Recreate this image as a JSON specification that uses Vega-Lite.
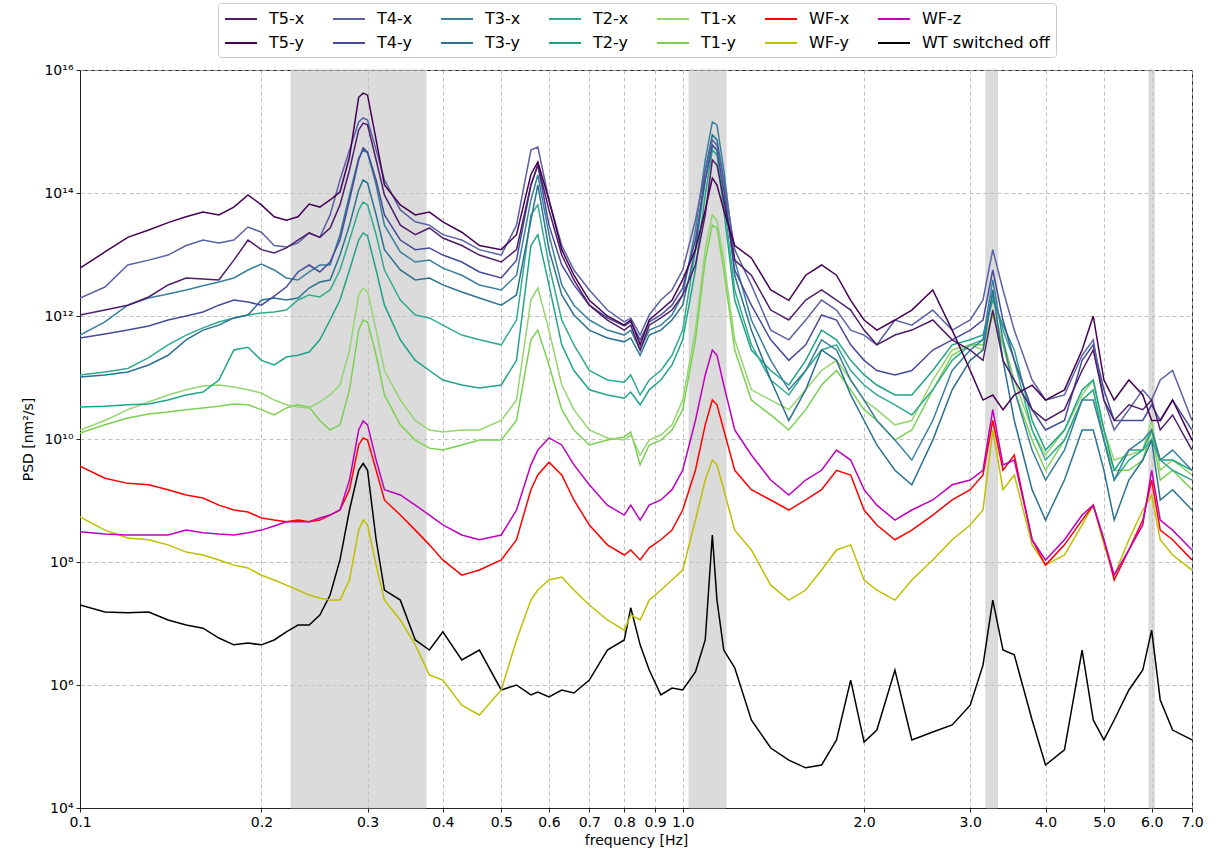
{
"$schema": "https://vega.github.io/schema/vega-lite/v6.json",
"width": 1112, "height": 738,
"autosize": {"type": "none"},
"padding": {"left": 80, "top": 70, "right": 30, "bottom": 44},
"config": {
 "font": "DejaVu Sans",
 "view": {"stroke": "#222222", "strokeWidth": 1},
 "axis": {"labelFont": "DejaVu Sans", "labelFontSize": 14, "labelColor": "#000000", "titleFont": "DejaVu Sans", "titleFontSize": 14, "titleFontWeight": "normal", "titleColor": "#000000", "domainColor": "#222222", "tickColor": "#222222", "tickSize": 4, "gridColor": "#b0b0b0", "gridDash": [4, 3], "gridWidth": 0.8, "labelOverlap": false, "labelFlush": false}
},
"layer": [
 {
  "data": {"values": [{"lo": 0.224, "hi": 0.375}, {"lo": 1.025, "hi": 1.18}, {"lo": 3.185, "hi": 3.33}, {"lo": 5.94, "hi": 6.06}]},
  "mark": {"type": "rect", "fill": "#c4c4c4", "opacity": 0.6, "stroke": "#bdbdbd", "strokeWidth": 1},
  "encoding": {
   "x": {"field": "lo", "type": "quantitative", "scale": {"type": "log", "domain": [0.1, 7], "nice": false}, "title": "frequency [Hz]"},
   "x2": {"field": "hi"}
  }
 },
 {
  "data": {"values": [
{"f":0.10,"T5-x":1.04e12,"T5-y":6.0e12,"T4-x":1.96e12,"T4-y":4.4e11,"T3-x":4.9e11,"T3-y":1.02e11,"T2-x":1.1e11,"T2-y":3.3e10,"T1-x":1.4e10,"T1-y":1.25e10,"WF-x":3.6e9,"WF-y":5.4e8,"WF-z":3.1e8,"WT switched off":2.0e7},
{"f":0.11,"T5-x":1.25e12,"T5-y":1.1e13,"T4-x":2.96e12,"T4-y":5.1e11,"T3-x":8.0e11,"T3-y":1.1e11,"T2-x":1.23e11,"T2-y":3.4e10,"T1-x":2.0e10,"T1-y":1.7e10,"WF-x":2.3e9,"WF-y":3.3e8,"WF-z":2.85e8,"WT switched off":1.54e7},
{"f":0.12,"T5-x":1.5e12,"T5-y":1.9e13,"T4-x":6.75e12,"T4-y":5.9e11,"T3-x":1.5e12,"T3-y":1.23e11,"T2-x":1.4e11,"T2-y":3.6e10,"T1-x":3.0e10,"T1-y":2.2e10,"WF-x":1.9e9,"WF-y":2.46e8,"WF-z":2.75e8,"WT switched off":1.5e7},
{"f":0.13,"T5-x":2.04e12,"T5-y":2.5e13,"T4-x":8.1e12,"T4-y":6.9e11,"T3-x":1.96e12,"T3-y":1.6e11,"T2-x":2.1e11,"T2-y":3.7e10,"T1-x":4.0e10,"T1-y":2.55e10,"WF-x":1.8e9,"WF-y":2.3e8,"WF-z":2.75e8,"WT switched off":1.54e7},
{"f":0.14,"T5-x":3.2e12,"T5-y":3.3e13,"T4-x":9.8e12,"T4-y":8.6e11,"T3-x":2.28e12,"T3-y":2.3e11,"T2-x":3.4e11,"T2-y":4.3e10,"T1-x":5.2e10,"T1-y":2.75e10,"WF-x":1.5e9,"WF-y":1.9e8,"WF-z":2.75e8,"WT switched off":1.14e7},
{"f":0.15,"T5-x":4.15e12,"T5-y":4.1e13,"T4-x":1.4e13,"T4-y":1.0e12,"T3-x":2.65e12,"T3-y":4.1e11,"T2-x":4.9e11,"T2-y":5.2e10,"T1-x":6.3e10,"T1-y":3.0e10,"WF-x":1.23e9,"WF-y":1.45e8,"WF-z":3.3e8,"WT switched off":9.45e6},
{"f":0.16,"T5-x":4.0e12,"T5-y":4.9e13,"T4-x":1.72e13,"T4-y":1.16e12,"T3-x":3.1e12,"T3-y":5.9e11,"T2-x":6.4e11,"T2-y":5.8e10,"T1-x":7.3e10,"T1-y":3.2e10,"WF-x":1.1e9,"WF-y":1.3e8,"WF-z":3.0e8,"WT switched off":8.4e6},
{"f":0.17,"T5-x":3.85e12,"T5-y":4.4e13,"T4-x":1.54e13,"T4-y":1.5e12,"T3-x":3.57e12,"T3-y":7.1e11,"T2-x":8.0e11,"T2-y":9.1e10,"T1-x":7.55e10,"T1-y":3.4e10,"WF-x":8.4e8,"WF-y":1.08e8,"WF-z":2.85e8,"WT switched off":5.8e6},
{"f":0.18,"T5-x":8.1e12,"T5-y":5.9e13,"T4-x":1.72e13,"T4-y":1.82e12,"T3-x":4.15e12,"T3-y":9.3e11,"T2-x":9.3e11,"T2-y":2.8e11,"T1-x":7.0e10,"T1-y":3.7e10,"WF-x":7.0e8,"WF-y":8.9e7,"WF-z":2.75e8,"WT switched off":4.5e6},
{"f":0.19,"T5-x":1.72e13,"T5-y":9.3e13,"T4-x":2.8e13,"T4-y":1.69e12,"T3-x":5.6e12,"T3-y":1.04e12,"T2-x":1.04e12,"T2-y":3.1e11,"T1-x":6.3e10,"T1-y":3.6e10,"WF-x":6.5e8,"WF-y":8.0e7,"WF-z":3.0e8,"WT switched off":4.8e6},
{"f":0.20,"T5-x":1.2e13,"T5-y":6.4e13,"T4-x":2.3e13,"T4-y":1.5e12,"T3-x":7.0e12,"T3-y":1.82e12,"T2-x":1.12e12,"T2-y":1.9e11,"T1-x":5.6e10,"T1-y":3.0e10,"WF-x":5.2e8,"WF-y":6.1e7,"WF-z":3.3e8,"WT switched off":4.5e6},
{"f":0.21,"T5-x":1.06e13,"T5-y":4.1e13,"T4-x":1.4e13,"T4-y":2.1e12,"T3-x":5.6e12,"T3-y":1.96e12,"T2-x":1.16e12,"T2-y":1.6e11,"T1-x":4.3e10,"T1-y":2.46e10,"WF-x":4.8e8,"WF-y":5.1e7,"WF-z":3.85e8,"WT switched off":5.4e6},
{"f":0.22,"T5-x":1.28e13,"T5-y":3.6e13,"T4-x":1.32e13,"T4-y":2.96e12,"T3-x":4.15e12,"T3-y":1.82e12,"T2-x":1.25e12,"T2-y":2.15e11,"T1-x":3.6e10,"T1-y":3.2e10,"WF-x":4.5e8,"WF-y":4.2e7,"WF-z":4.5e8,"WT switched off":7.3e6},
{"f":0.23,"T5-x":1.72e13,"T5-y":4.1e13,"T4-x":1.54e13,"T4-y":5.2e12,"T3-x":3.85e12,"T3-y":1.96e12,"T2-x":1.82e12,"T2-y":2.3e11,"T1-x":3.3e10,"T1-y":3.6e10,"WF-x":4.8e8,"WF-y":3.5e7,"WF-z":4.5e8,"WT switched off":9.45e6},
{"f":0.24,"T5-x":2.24e13,"T5-y":6.6e13,"T4-x":2.24e13,"T4-y":6.75e12,"T3-x":5.2e12,"T3-y":2.85e12,"T2-x":2.2e12,"T2-y":2.6e11,"T1-x":3.2e10,"T1-y":3.3e10,"WF-x":4.5e8,"WF-y":2.9e7,"WF-z":4.5e8,"WT switched off":9.45e6},
{"f":0.25,"T5-x":1.9e13,"T5-y":5.9e13,"T4-x":1.9e13,"T4-y":5.2e12,"T3-x":6.75e12,"T3-y":3.57e12,"T2-x":2.04e12,"T2-y":4.1e11,"T1-x":4.0e10,"T1-y":2.0e10,"WF-x":4.8e8,"WF-y":2.6e7,"WF-z":5.2e8,"WT switched off":1.37e7},
{"f":0.26,"T5-x":2.7e13,"T5-y":7.7e13,"T4-x":4.4e13,"T4-y":7.55e12,"T3-x":6.75e12,"T3-y":3.85e12,"T2-x":2.65e12,"T2-y":8.6e11,"T1-x":5.2e10,"T1-y":1.4e10,"WF-x":5.8e8,"WF-y":2.4e7,"WF-z":5.8e8,"WT switched off":2.9e7},
{"f":0.27,"T5-x":6.4e13,"T5-y":1.04e14,"T4-x":1.63e14,"T4-y":1.72e13,"T3-x":2.1e13,"T3-y":9.8e12,"T2-x":5.6e12,"T2-y":1.82e12,"T1-x":7.55e10,"T1-y":1.7e10,"WF-x":7.0e8,"WF-y":2.4e7,"WF-z":7.0e8,"WT switched off":1.08e8},
{"f":0.28,"T5-x":2.37e14,"T5-y":3.85e14,"T4-x":5.0e14,"T4-y":7.7e13,"T3-x":9.3e13,"T3-y":3.0e13,"T2-x":1.72e13,"T2-y":5.6e12,"T1-x":2.8e11,"T1-y":6.3e10,"WF-x":1.5e9,"WF-y":5.1e7,"WF-z":2.15e9,"WT switched off":7.0e8},
{"f":0.29,"T5-x":1.06e15,"T5-y":3.6e15,"T4-x":1.43e15,"T4-y":3.44e14,"T3-x":3.7e14,"T3-y":1.12e14,"T2-x":5.3e13,"T2-y":1.72e13,"T1-x":2.2e12,"T1-y":5.9e11,"WF-x":8.0e9,"WF-y":3.3e8,"WF-z":1.4e10,"WT switched off":3.1e9},
{"f":0.295,"T5-x":1.37e15,"T5-y":4.2e15,"T4-x":1.66e15,"T4-y":5.4e14,"T3-x":5.0e14,"T3-y":1.63e14,"T2-x":7.1e13,"T2-y":2.24e13,"T1-x":2.85e12,"T1-y":8.6e11,"WF-x":1.04e10,"WF-y":4.8e8,"WF-z":1.96e10,"WT switched off":4.0e9},
{"f":0.30,"T5-x":1.28e15,"T5-y":3.9e15,"T4-x":1.54e15,"T4-y":4.6e14,"T3-x":4.5e14,"T3-y":1.45e14,"T2-x":6.4e13,"T2-y":2.0e13,"T1-x":2.46e12,"T1-y":8.0e11,"WF-x":9.6e9,"WF-y":4.0e8,"WF-z":1.7e10,"WT switched off":3.1e9},
{"f":0.31,"T5-x":3.44e14,"T5-y":7.3e14,"T4-x":5.0e14,"T4-y":1.63e14,"T3-x":1.35e14,"T3-y":4.4e13,"T2-x":2.1e13,"T2-y":5.6e12,"T1-x":5.9e11,"T1-y":2.3e11,"WF-x":3.1e9,"WF-y":8.9e7,"WF-z":4.55e9,"WT switched off":2.3e8},
{"f":0.32,"T5-x":9.3e13,"T5-y":1.35e14,"T4-x":1.63e14,"T4-y":4.4e13,"T3-x":3.0e13,"T3-y":1.2e13,"T2-x":5.6e12,"T2-y":1.5e12,"T1-x":1.3e11,"T1-y":5.2e10,"WF-x":1.02e9,"WF-y":2.4e7,"WF-z":1.5e9,"WT switched off":3.5e7},
{"f":0.34,"T5-x":3.0e13,"T5-y":6.4e13,"T4-x":5.3e13,"T4-y":1.72e13,"T3-x":1.1e13,"T3-y":5.6e12,"T2-x":1.82e12,"T2-y":4.1e11,"T1-x":4.3e10,"T1-y":1.7e10,"WF-x":5.8e8,"WF-y":1.14e7,"WF-z":1.23e9,"WT switched off":2.4e7},
{"f":0.36,"T5-x":2.1e13,"T5-y":4.4e13,"T4-x":3.4e13,"T4-y":1.2e13,"T3-x":7.55e12,"T3-y":3.85e12,"T2-x":1.04e12,"T2-y":1.9e11,"T1-x":2.0e10,"T1-y":9.6e9,"WF-x":3.3e8,"WF-y":4.5e6,"WF-z":8.4e8,"WT switched off":5.4e6},
{"f":0.38,"T5-x":2.7e13,"T5-y":4.9e13,"T4-x":3.0e13,"T4-y":1.28e13,"T3-x":8.1e12,"T3-y":4.15e12,"T2-x":9.3e11,"T2-y":1.3e11,"T1-x":1.4e10,"T1-y":7.1e9,"WF-x":1.9e8,"WF-y":1.45e6,"WF-z":5.8e8,"WT switched off":3.7e6},
{"f":0.40,"T5-x":1.85e13,"T5-y":3.4e13,"T4-x":2.1e13,"T4-y":9.8e12,"T3-x":6.0e12,"T3-y":3.2e12,"T2-x":7.1e11,"T2-y":9.1e10,"T1-x":1.3e10,"T1-y":6.6e9,"WF-x":1.08e8,"WF-y":1.2e6,"WF-z":4.0e8,"WT switched off":7.3e6},
{"f":0.43,"T5-x":1.4e13,"T5-y":2.3e13,"T4-x":1.72e13,"T4-y":7.55e12,"T3-x":4.6e12,"T3-y":2.46e12,"T2-x":4.9e11,"T2-y":7.55e10,"T1-x":1.4e10,"T1-y":8.0e9,"WF-x":6.1e7,"WF-y":4.7e5,"WF-z":2.75e8,"WT switched off":2.55e6},
{"f":0.46,"T5-x":9.8e12,"T5-y":1.4e13,"T4-x":1.2e13,"T4-y":5.2e12,"T3-x":3.2e12,"T3-y":1.96e12,"T2-x":4.1e11,"T2-y":6.75e10,"T1-x":1.4e10,"T1-y":9.6e9,"WF-x":7.4e7,"WF-y":3.25e5,"WF-z":2.3e8,"WT switched off":3.7e6},
{"f":0.50,"T5-x":7.55e12,"T5-y":1.2e13,"T4-x":9.8e12,"T4-y":4.15e12,"T3-x":2.65e12,"T3-y":1.5e12,"T2-x":3.4e11,"T2-y":7.55e10,"T1-x":2.0e10,"T1-y":9.6e9,"WF-x":1.08e8,"WF-y":8.3e5,"WF-z":2.75e8,"WT switched off":8.3e5},
{"f":0.53,"T5-x":1.2e13,"T5-y":2.1e13,"T4-x":3.0e13,"T4-y":8.1e12,"T3-x":4.6e12,"T3-y":2.2e12,"T2-x":8.6e11,"T2-y":1.9e11,"T1-x":4.3e10,"T1-y":2.0e10,"WF-x":2.3e8,"WF-y":5.4e6,"WF-z":7.0e8,"WT switched off":1.0e6},
{"f":0.56,"T5-x":1.35e14,"T5-y":2.0e14,"T4-x":5.0e14,"T4-y":1.35e14,"T3-x":7.7e13,"T3-y":3.6e13,"T2-x":4.4e13,"T2-y":1.4e13,"T1-x":1.82e12,"T1-y":4.1e11,"WF-x":1.5e9,"WF-y":2.4e7,"WF-z":3.8e9,"WT switched off":6.9e5},
{"f":0.575,"T5-x":2.85e14,"T5-y":3.2e14,"T4-x":5.6e14,"T4-y":2.85e14,"T3-x":1.96e14,"T3-y":1.35e14,"T2-x":6.4e13,"T2-y":2.1e13,"T1-x":2.85e12,"T1-y":5.9e11,"WF-x":2.6e9,"WF-y":3.5e7,"WF-z":6.6e9,"WT switched off":7.7e5},
{"f":0.60,"T5-x":5.3e13,"T5-y":7.7e13,"T4-x":7.7e13,"T4-y":3.0e13,"T3-x":2.1e13,"T3-y":1.2e13,"T2-x":6.75e12,"T2-y":3.2e12,"T1-x":5.9e11,"T1-y":1.6e11,"WF-x":4.2e9,"WF-y":5.1e7,"WF-z":1.04e10,"WT switched off":6.4e5},
{"f":0.63,"T5-x":9.8e12,"T5-y":1.2e13,"T4-x":1.4e13,"T4-y":6.75e12,"T3-x":3.2e12,"T3-y":2.2e12,"T2-x":8.6e11,"T2-y":3.4e11,"T1-x":7.55e10,"T1-y":3.0e10,"WF-x":2.6e9,"WF-y":5.7e7,"WF-z":8.0e9,"WT switched off":8.3e5},
{"f":0.66,"T5-x":3.85e12,"T5-y":4.6e12,"T4-x":5.6e12,"T4-y":3.2e12,"T3-x":1.5e12,"T3-y":1.04e12,"T2-x":3.4e11,"T2-y":1.3e11,"T1-x":3.0e10,"T1-y":1.4e10,"WF-x":1.02e9,"WF-y":3.5e7,"WF-z":3.8e9,"WT switched off":7.4e5},
{"f":0.70,"T5-x":1.5e12,"T5-y":1.8e12,"T4-x":2.65e12,"T4-y":1.5e12,"T3-x":8.6e11,"T3-y":5.9e11,"T2-x":1.3e11,"T2-y":6.3e10,"T1-x":1.4e10,"T1-y":8.0e9,"WF-x":4.0e8,"WF-y":2.0e7,"WF-z":1.8e9,"WT switched off":1.2e6},
{"f":0.75,"T5-x":8.6e11,"T5-y":1.0e12,"T4-x":1.25e12,"T4-y":9.3e11,"T3-x":5.9e11,"T3-y":4.4e11,"T2-x":9.1e10,"T2-y":5.2e10,"T1-x":1.04e10,"T1-y":9.6e9,"WF-x":1.9e8,"WF-y":1.14e7,"WF-z":8.4e8,"WT switched off":3.7e6},
{"f":0.80,"T5-x":5.9e11,"T5-y":7.1e11,"T4-x":8.0e11,"T4-y":6.9e11,"T3-x":4.9e11,"T3-y":3.8e11,"T2-x":8.4e10,"T2-y":4.6e10,"T1-x":9.6e9,"T1-y":1.08e10,"WF-x":1.3e8,"WF-y":7.8e6,"WF-z":5.8e8,"WT switched off":5.4e6},
{"f":0.82,"T5-x":7.1e11,"T5-y":8.6e11,"T4-x":9.3e11,"T4-y":8.0e11,"T3-x":5.9e11,"T3-y":4.4e11,"T2-x":1.1e11,"T2-y":5.8e10,"T1-x":1.16e10,"T1-y":1.3e10,"WF-x":1.57e8,"WF-y":1.37e7,"WF-z":8.4e8,"WT switched off":1.8e7},
{"f":0.85,"T5-x":2.8e11,"T5-y":3.4e11,"T4-x":4.9e11,"T4-y":4.1e11,"T3-x":2.8e11,"T3-y":2.3e11,"T2-x":5.2e10,"T2-y":3.6e10,"T1-x":5.5e9,"T1-y":3.8e9,"WF-x":1.08e8,"WF-y":1.14e7,"WF-z":4.8e8,"WT switched off":4.5e6},
{"f":0.88,"T5-x":7.1e11,"T5-y":8.6e11,"T4-x":1.04e12,"T4-y":8.0e11,"T3-x":5.9e11,"T3-y":4.9e11,"T2-x":9.1e10,"T2-y":6.3e10,"T1-x":9.6e9,"T1-y":8.0e9,"WF-x":1.7e8,"WF-y":2.4e7,"WF-z":8.4e8,"WT switched off":1.75e6},
{"f":0.92,"T5-x":9.3e11,"T5-y":1.25e12,"T4-x":1.82e12,"T4-y":1.04e12,"T3-x":7.1e11,"T3-y":5.9e11,"T2-x":1.3e11,"T2-y":9.1e10,"T1-x":1.16e10,"T1-y":9.6e9,"WF-x":2.3e8,"WF-y":3.5e7,"WF-z":1.02e9,"WT switched off":6.9e5},
{"f":0.96,"T5-x":1.25e12,"T5-y":1.8e12,"T4-x":2.65e12,"T4-y":1.5e12,"T3-x":1.04e12,"T3-y":8.6e11,"T2-x":2.3e11,"T2-y":1.6e11,"T1-x":1.7e10,"T1-y":1.4e10,"WF-x":3.3e8,"WF-y":5.1e7,"WF-z":1.5e9,"WT switched off":8.9e5},
{"f":1.00,"T5-x":2.2e12,"T5-y":3.9e12,"T4-x":5.6e12,"T4-y":2.85e12,"T3-x":2.2e12,"T3-y":1.5e12,"T2-x":5.9e11,"T2-y":4.1e11,"T1-x":4.3e10,"T1-y":3.0e10,"WF-x":7.0e8,"WF-y":7.4e7,"WF-z":3.1e9,"WT switched off":8.3e5},
{"f":1.05,"T5-x":6.75e12,"T5-y":1.2e13,"T4-x":3.6e13,"T4-y":1.72e13,"T3-x":2.5e13,"T3-y":1.2e13,"T2-x":1.2e13,"T2-y":5.6e12,"T1-x":5.9e11,"T1-y":4.1e11,"WF-x":3.1e9,"WF-y":4.8e8,"WF-z":2.0e10,"WT switched off":1.63e6},
{"f":1.09,"T5-x":4.4e13,"T5-y":5.3e13,"T4-x":2.37e14,"T4-y":1.63e14,"T3-x":3.44e14,"T3-y":2.37e14,"T2-x":1.63e14,"T2-y":9.3e13,"T1-x":1.2e13,"T1-y":8.1e12,"WF-x":1.7e10,"WF-y":2.15e9,"WF-z":1.1e11,"WT switched off":5.4e6},
{"f":1.12,"T5-x":3.44e14,"T5-y":1.75e14,"T4-x":7.3e14,"T4-y":6.0e14,"T3-x":1.43e15,"T3-y":8.8e14,"T2-x":6.0e14,"T2-y":5.0e14,"T1-x":4.4e13,"T1-y":3.0e13,"WF-x":4.3e10,"WF-y":4.55e9,"WF-z":2.8e11,"WT switched off":2.75e8},
{"f":1.14,"T5-x":2.85e14,"T5-y":1.35e14,"T4-x":6.0e14,"T4-y":5.0e14,"T3-x":1.28e15,"T3-y":7.3e14,"T2-x":5.0e14,"T2-y":4.15e14,"T1-x":3.6e13,"T1-y":2.7e13,"WF-x":3.6e10,"WF-y":3.8e9,"WF-z":2.3e11,"WT switched off":2.4e7},
{"f":1.17,"T5-x":7.7e13,"T5-y":5.3e13,"T4-x":1.63e14,"T4-y":1.12e14,"T3-x":2.37e14,"T3-y":1.63e14,"T2-x":7.7e13,"T2-y":5.3e13,"T1-x":8.1e12,"T1-y":5.6e12,"WF-x":1.4e10,"WF-y":1.5e9,"WF-z":7.55e10,"WT switched off":3.7e6},
{"f":1.22,"T5-x":8.1e12,"T5-y":1.4e13,"T4-x":1.2e13,"T4-y":5.6e12,"T3-x":8.1e12,"T3-y":4.6e12,"T2-x":2.65e12,"T2-y":1.82e12,"T1-x":4.1e11,"T1-y":2.8e11,"WF-x":3.1e9,"WF-y":3.3e8,"WF-z":1.4e10,"WT switched off":1.9e6},
{"f":1.30,"T5-x":4.6e12,"T5-y":8.8e12,"T4-x":3.2e12,"T4-y":1.5e12,"T3-x":8.6e11,"T3-y":5.9e11,"T2-x":3.4e11,"T2-y":2.8e11,"T1-x":6.3e10,"T1-y":4.3e10,"WF-x":1.5e9,"WF-y":1.57e8,"WF-z":5.5e9,"WT switched off":2.7e5},
{"f":1.40,"T5-x":1.25e12,"T5-y":2.65e12,"T4-x":5.9e11,"T4-y":4.1e11,"T3-x":1.9e11,"T3-y":9.1e10,"T2-x":9.1e10,"T2-y":1.3e11,"T1-x":4.3e10,"T1-y":2.46e10,"WF-x":1.02e9,"WF-y":4.2e7,"WF-z":2.15e9,"WT switched off":9.45e4},
{"f":1.50,"T5-x":8.6e11,"T5-y":1.8e12,"T4-x":4.1e11,"T4-y":1.9e11,"T3-x":6.3e10,"T3-y":2.0e10,"T2-x":5.2e10,"T2-y":7.55e10,"T1-x":3.0e10,"T1-y":1.4e10,"WF-x":7.0e8,"WF-y":2.4e7,"WF-z":1.23e9,"WT switched off":6.0e4},
{"f":1.60,"T5-x":1.82e12,"T5-y":4.6e12,"T4-x":8.6e11,"T4-y":3.4e11,"T3-x":1.3e11,"T3-y":6.3e10,"T2-x":1.3e11,"T2-y":1.9e11,"T1-x":6.3e10,"T1-y":3.0e10,"WF-x":1.02e9,"WF-y":3.5e7,"WF-z":2.15e9,"WT switched off":4.5e4},
{"f":1.70,"T5-x":2.65e12,"T5-y":6.75e12,"T4-x":1.82e12,"T4-y":1.04e12,"T3-x":4.1e11,"T3-y":2.8e11,"T2-x":2.8e11,"T2-y":5.9e11,"T1-x":1.3e11,"T1-y":7.55e10,"WF-x":1.5e9,"WF-y":7.4e7,"WF-z":3.1e9,"WT switched off":5.0e4},
{"f":1.80,"T5-x":1.82e12,"T5-y":4.6e12,"T4-x":1.25e12,"T4-y":8.6e11,"T3-x":2.8e11,"T3-y":1.9e11,"T2-x":3.4e11,"T2-y":4.1e11,"T1-x":1.9e11,"T1-y":1.3e11,"WF-x":3.1e9,"WF-y":1.57e8,"WF-z":6.6e9,"WT switched off":1.28e5},
{"f":1.90,"T5-x":1.25e12,"T5-y":1.8e12,"T4-x":5.9e11,"T4-y":3.4e11,"T3-x":9.1e10,"T3-y":5.2e10,"T2-x":1.3e11,"T2-y":1.9e11,"T1-x":9.1e10,"T1-y":6.3e10,"WF-x":2.6e9,"WF-y":1.9e8,"WF-z":4.55e9,"WT switched off":1.2e6},
{"f":2.00,"T5-x":5.9e11,"T5-y":8.6e11,"T4-x":4.9e11,"T4-y":1.9e11,"T3-x":4.3e10,"T3-y":2.0e10,"T2-x":7.55e10,"T2-y":1.1e11,"T1-x":4.3e10,"T1-y":3.0e10,"WF-x":7.0e8,"WF-y":5.1e7,"WF-z":1.5e9,"WT switched off":1.18e5},
{"f":2.10,"T5-x":3.4e11,"T5-y":5.9e11,"T4-x":3.4e11,"T4-y":1.3e11,"T3-x":2.0e10,"T3-y":8.0e9,"T2-x":5.2e10,"T2-y":7.55e10,"T1-x":3.0e10,"T1-y":2.0e10,"WF-x":4.0e8,"WF-y":3.5e7,"WF-z":8.4e8,"WT switched off":1.85e5},
{"f":2.25,"T5-x":4.9e11,"T5-y":8.6e11,"T4-x":8.6e11,"T4-y":1.1e11,"T3-x":9.6e9,"T3-y":3.1e9,"T2-x":3.6e10,"T2-y":5.2e10,"T1-x":1.7e10,"T1-y":9.6e9,"WF-x":2.3e8,"WF-y":2.4e7,"WF-z":4.8e8,"WT switched off":1.75e6},
{"f":2.40,"T5-x":5.9e11,"T5-y":1.25e12,"T4-x":7.1e11,"T4-y":1.3e11,"T3-x":4.55e9,"T3-y":1.8e9,"T2-x":2.46e10,"T2-y":5.2e10,"T1-x":2.0e10,"T1-y":1.4e10,"WF-x":3.3e8,"WF-y":5.1e7,"WF-z":7.0e8,"WT switched off":1.28e5},
{"f":2.60,"T5-x":8.6e11,"T5-y":2.65e12,"T4-x":1.25e12,"T4-y":2.8e11,"T3-x":2.0e10,"T3-y":9.6e9,"T2-x":6.3e10,"T2-y":1.3e11,"T1-x":9.1e10,"T1-y":6.3e10,"WF-x":5.8e8,"WF-y":1.08e8,"WF-z":1.02e9,"WT switched off":1.72e5},
{"f":2.80,"T5-x":4.1e11,"T5-y":5.9e11,"T4-x":5.9e11,"T4-y":4.1e11,"T3-x":1.3e11,"T3-y":6.3e10,"T2-x":1.9e11,"T2-y":3.4e11,"T1-x":2.8e11,"T1-y":2.3e11,"WF-x":1.02e9,"WF-y":2.3e8,"WF-z":1.8e9,"WT switched off":2.24e5},
{"f":3.00,"T5-x":2.8e11,"T5-y":1.3e11,"T4-x":8.6e11,"T4-y":5.9e11,"T3-x":2.8e11,"T3-y":1.9e11,"T2-x":3.4e11,"T2-y":4.1e11,"T1-x":3.4e11,"T1-y":3.4e11,"WF-x":1.5e9,"WF-y":4.0e8,"WF-z":2.15e9,"WT switched off":4.7e5},
{"f":3.15,"T5-x":1.9e11,"T5-y":4.3e10,"T4-x":1.82e12,"T4-y":8.6e11,"T3-x":4.1e11,"T3-y":2.8e11,"T2-x":4.1e11,"T2-y":4.9e11,"T1-x":2.8e11,"T1-y":3.4e11,"WF-x":2.6e9,"WF-y":7.0e8,"WF-z":3.1e9,"WT switched off":2.1e6},
{"f":3.27,"T5-x":1.25e12,"T5-y":5.2e10,"T4-x":1.2e13,"T4-y":5.6e12,"T3-x":3.85e12,"T3-y":2.65e12,"T2-x":2.2e12,"T2-y":1.82e12,"T1-x":1.25e12,"T1-y":1.04e12,"WF-x":2.0e10,"WF-y":1.4e10,"WF-z":3.0e10,"WT switched off":2.4e7},
{"f":3.40,"T5-x":1.9e11,"T5-y":3.0e10,"T4-x":2.65e12,"T4-y":8.6e11,"T3-x":4.1e11,"T3-y":1.9e11,"T2-x":5.9e11,"T2-y":7.1e11,"T1-x":4.1e11,"T1-y":3.4e11,"WF-x":3.1e9,"WF-y":1.5e9,"WF-z":3.8e9,"WT switched off":3.7e6},
{"f":3.55,"T5-x":9.1e10,"T5-y":5.2e10,"T4-x":5.9e11,"T4-y":1.9e11,"T3-x":6.3e10,"T3-y":2.0e10,"T2-x":1.9e11,"T2-y":2.8e11,"T1-x":9.1e10,"T1-y":6.3e10,"WF-x":5.5e9,"WF-y":2.6e9,"WF-z":4.55e9,"WT switched off":3.1e6},
{"f":3.80,"T5-x":3.0e10,"T5-y":7.5e10,"T4-x":9.1e10,"T4-y":3.0e10,"T3-x":6.6e9,"T3-y":1.5e9,"T2-x":1.4e10,"T2-y":2.0e10,"T1-x":1.4e10,"T1-y":9.6e9,"WF-x":2.3e8,"WF-y":1.9e8,"WF-z":2.3e8,"WT switched off":2.7e5},
{"f":4.00,"T5-x":2.0e10,"T5-y":4.3e10,"T4-x":4.3e10,"T4-y":1.4e10,"T3-x":2.15e9,"T3-y":4.8e8,"T2-x":4.55e9,"T2-y":6.6e9,"T1-x":5.5e9,"T1-y":3.1e9,"WF-x":8.9e7,"WF-y":8.9e7,"WF-z":1.08e8,"WT switched off":5.0e4},
{"f":4.30,"T5-x":3.0e10,"T5-y":6.3e10,"T4-x":5.2e10,"T4-y":2.0e10,"T3-x":6.6e9,"T3-y":2.15e9,"T2-x":9.6e9,"T2-y":1.4e10,"T1-x":1.4e10,"T1-y":9.6e9,"WF-x":1.9e8,"WF-y":1.3e8,"WF-z":2.3e8,"WT switched off":8.8e4},
{"f":4.60,"T5-x":1.3e11,"T5-y":2.8e11,"T4-x":2.3e11,"T4-y":1.9e11,"T3-x":4.3e10,"T3-y":1.4e10,"T2-x":4.3e10,"T2-y":6.3e10,"T1-x":5.2e10,"T1-y":4.3e10,"WF-x":4.8e8,"WF-y":4.0e8,"WF-z":5.8e8,"WT switched off":3.7e6},
{"f":4.80,"T5-x":2.8e11,"T5-y":1.0e12,"T4-x":4.1e11,"T4-y":3.4e11,"T3-x":4.3e10,"T3-y":1.4e10,"T2-x":6.3e10,"T2-y":9.1e10,"T1-x":9.1e10,"T1-y":6.3e10,"WF-x":8.4e8,"WF-y":8.4e8,"WF-z":8.4e8,"WT switched off":2.7e5},
{"f":5.00,"T5-x":4.3e10,"T5-y":9.1e10,"T4-x":4.3e10,"T4-y":6.3e10,"T3-x":9.6e9,"T3-y":3.1e9,"T2-x":9.6e9,"T2-y":1.4e10,"T1-x":1.4e10,"T1-y":9.6e9,"WF-x":2.3e8,"WF-y":1.9e8,"WF-z":2.3e8,"WT switched off":1.28e5},
{"f":5.20,"T5-x":2.0e10,"T5-y":4.3e10,"T4-x":1.4e10,"T4-y":2.0e10,"T3-x":2.15e9,"T3-y":4.8e8,"T2-x":2.15e9,"T2-y":3.1e9,"T1-x":4.55e9,"T1-y":3.1e9,"WF-x":5.1e7,"WF-y":6.1e7,"WF-z":6.1e7,"WT switched off":2.7e5},
{"f":5.50,"T5-x":3.6e10,"T5-y":9.1e10,"T4-x":3.0e10,"T4-y":2.0e10,"T3-x":6.6e9,"T3-y":2.15e9,"T2-x":4.55e9,"T2-y":6.6e9,"T1-x":5.5e9,"T1-y":3.1e9,"WF-x":1.57e8,"WF-y":2.3e8,"WF-z":1.57e8,"WT switched off":8.3e5},
{"f":5.80,"T5-x":3.0e10,"T5-y":5.2e10,"T4-x":6.3e10,"T4-y":2.0e10,"T3-x":9.6e9,"T3-y":4.55e9,"T2-x":6.6e9,"T2-y":6.6e9,"T1-x":6.6e9,"T1-y":4.55e9,"WF-x":4.8e8,"WF-y":7.0e8,"WF-z":4.0e8,"WT switched off":1.75e6},
{"f":6.00,"T5-x":4.3e10,"T5-y":2.0e10,"T4-x":4.3e10,"T4-y":3.6e10,"T3-x":1.4e10,"T3-y":9.6e9,"T2-x":9.6e9,"T2-y":1.4e10,"T1-x":2.0e10,"T1-y":1.4e10,"WF-x":2.15e9,"WF-y":1.23e9,"WF-z":3.1e9,"WT switched off":7.8e6},
{"f":6.20,"T5-x":1.4e10,"T5-y":2.0e10,"T4-x":9.1e10,"T4-y":2.0e10,"T3-x":4.55e9,"T3-y":1.02e9,"T2-x":4.55e9,"T2-y":4.55e9,"T1-x":3.1e9,"T1-y":2.15e9,"WF-x":3.3e8,"WF-y":2.3e8,"WF-z":4.8e8,"WT switched off":5.7e5},
{"f":6.50,"T5-x":2.46e10,"T5-y":4.3e10,"T4-x":1.3e11,"T4-y":4.3e10,"T3-x":6.6e9,"T3-y":1.5e9,"T2-x":3.1e9,"T2-y":4.55e9,"T1-x":4.55e9,"T1-y":3.1e9,"WF-x":2.3e8,"WF-y":1.3e8,"WF-z":3.3e8,"WT switched off":1.85e5},
{"f":7.00,"T5-x":6.6e9,"T5-y":9.6e9,"T4-x":2.0e10,"T4-y":1.4e10,"T3-x":3.1e9,"T3-y":7.0e8,"T2-x":2.15e9,"T2-y":3.1e9,"T1-x":2.6e9,"T1-y":1.5e9,"WF-x":1.08e8,"WF-y":7.4e7,"WF-z":1.57e8,"WT switched off":1.28e5}
  ]},
  "transform": [{"fold": ["WT switched off","WF-y","WF-x","WF-z","T1-y","T1-x","T2-y","T2-x","T3-y","T3-x","T4-y","T4-x","T5-x","T5-y"], "as": ["series", "psd"]}],
  "mark": {"type": "line", "strokeWidth": 1.5, "clip": true},
  "encoding": {
   "x": {"field": "f", "type": "quantitative", "scale": {"type": "log", "domain": [0.1, 7], "nice": false}, "title": "frequency [Hz]",
         "axis": {"values": [0.1, 0.2, 0.3, 0.4, 0.5, 0.6, 0.7, 0.8, 0.9, 1, 2, 3, 4, 5, 6, 7], "format": ".1f", "titlePadding": 4, "labelPadding": 3, "grid": true}},
   "y": {"field": "psd", "type": "quantitative", "scale": {"type": "log", "domain": [1e4, 1e16], "nice": false}, "title": "PSD [nm²/s]",
         "axis": {"values": [1e4, 1e6, 1e8, 1e10, 1e12, 1e14, 1e16], "labelExpr": "datum.value > 5e15 ? '10¹⁶' : datum.value > 5e13 ? '10¹⁴' : datum.value > 5e11 ? '10¹²' : datum.value > 5e9 ? '10¹⁰' : datum.value > 5e7 ? '10⁸' : datum.value > 5e5 ? '10⁶' : '10⁴'", "titlePadding": 8, "labelPadding": 3, "grid": true}},
   "color": {"field": "series", "type": "nominal",
     "scale": {"domain": ["T5-x","T4-x","T3-x","T2-x","T1-x","WF-x","WF-z","T5-y","T4-y","T3-y","T2-y","T1-y","WF-y","WT switched off"],
               "range": ["#4e1d6b","#5a62a3","#3a7f9e","#2fab8e","#95d56f","#ff0000","#bf00bf","#440154","#464b98","#2c7190","#20a386","#7ad151","#bfbf00","#000000"]},
     "legend": {"orient": "none", "legendX": 138, "legendY": -67, "columns": 7, "direction": "horizontal", "title": null,
       "symbolType": "M-1,0H2.56", "symbolSize": 324, "symbolStrokeWidth": 2, "labelFontSize": 16, "labelFont": "DejaVu Sans", "labelColor": "#000000",
       "labelOffset": 25, "columnPadding": 24, "rowPadding": 6, "padding": 6, "strokeColor": "#cccccc", "fillColor": "#ffffff", "cornerRadius": 3, "labelLimit": 300}}
  }
 }
]
}
